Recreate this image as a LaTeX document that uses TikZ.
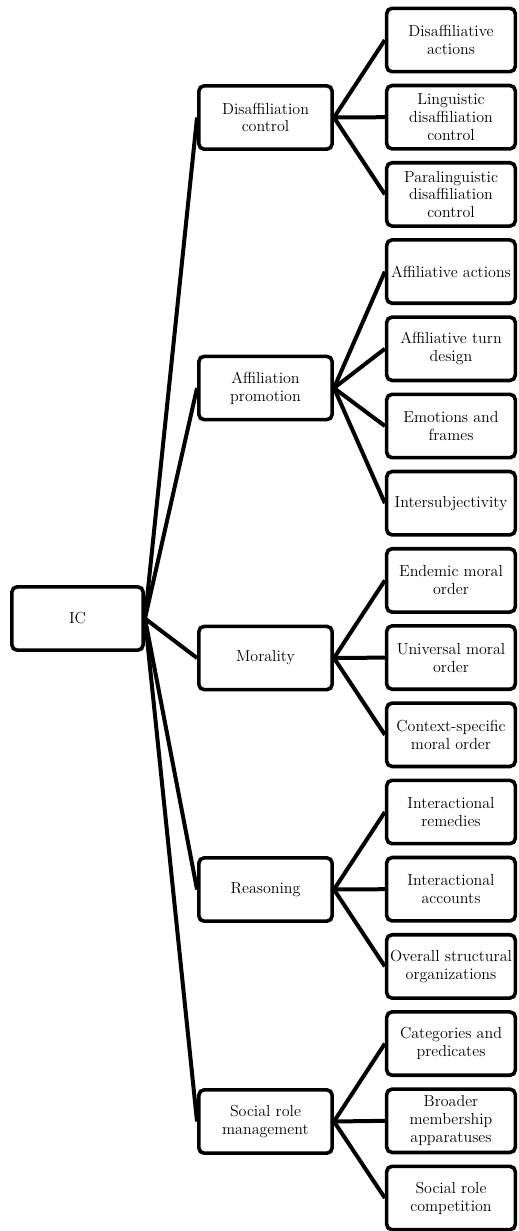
\documentclass[tikz,border=0pt]{standalone}
\usepackage{amssymb,amsmath}
\usepackage{tikz}

\tikzset{
	box/.style={draw, rounded corners=4pt, line width=2.7pt, align=center, inner sep=0.5pt, minimum height=47.5pt},
	rootbox/.style={box, minimum width=98.5pt},
	midbox/.style={box, minimum width=100pt},
	leafbox/.style={box, minimum width=96.5pt},
	link/.style={line width=3pt},
}

\begin{document}
\begin{tikzpicture}[x=0.75pt, y=-0.75pt, font=\fontsize{12}{13.4}\selectfont]
		\useasboundingbox (0,0) rectangle (518,1231);
		% root
		\node[rootbox] (ic) at (77.5,618.5) {IC};
		% second level
		\node[midbox] (disaff) at (265.5,117.5) {Disaffiliation\\control};
		\node[midbox] (affil) at (265.5,388) {Affiliation\\promotion};
		\node[midbox] (moral) at (265.5,658) {Morality};
		\node[midbox] (reason) at (265.5,889.5) {Reasoning};
		\node[midbox] (social) at (265.5,1121.5) {Social role\\management};
		% third level
		\node[leafbox] (l1) at (451,40) {Disaffiliative\\actions};
		\node[leafbox] (l2) at (451,117.2) {Linguistic\\disaffiliation\\control};
		\node[leafbox] (l3) at (451,194.4) {Paralinguistic\\disaffiliation\\control};
		\node[leafbox] (l4) at (451,271.6) {Affiliative actions};
		\node[leafbox] (l5) at (451,348.8) {Affiliative turn\\design};
		\node[leafbox] (l6) at (451,426) {Emotions and\\frames};
		\node[leafbox] (l7) at (451,503.2) {Intersubjectivity};
		\node[leafbox] (l8) at (451,580.4) {Endemic moral\\order};
		\node[leafbox] (l9) at (451,657.6) {Universal moral\\order};
		\node[leafbox] (l10) at (451,734.8) {Context-specific\\moral order};
		\node[leafbox] (l11) at (451,812) {Interactional\\remedies};
		\node[leafbox] (l12) at (451,889.2) {Interactional\\accounts};
		\node[leafbox] (l13) at (451,966.4) {Overall structural\\organizations};
		\node[leafbox] (l14) at (451,1043.6) {Categories and\\predicates};
		\node[leafbox] (l15) at (451,1120.8) {Broader\\membership\\apparatuses};
		\node[leafbox] (l16) at (451,1198) {Social role\\competition};
		% links from the root
		\draw[link] (ic.east) -- (disaff.west);
		\draw[link] (ic.east) -- (affil.west);
		\draw[link] (ic.east) -- (moral.west);
		\draw[link] (ic.east) -- (reason.west);
		\draw[link] (ic.east) -- (social.west);
		% links to the leaves
		\draw[link] (disaff.east) -- (l1.west);
		\draw[link] (disaff.east) -- (l2.west);
		\draw[link] (disaff.east) -- (l3.west);
		\draw[link] (affil.east) -- (l4.west);
		\draw[link] (affil.east) -- (l5.west);
		\draw[link] (affil.east) -- (l6.west);
		\draw[link] (affil.east) -- (l7.west);
		\draw[link] (moral.east) -- (l8.west);
		\draw[link] (moral.east) -- (l9.west);
		\draw[link] (moral.east) -- (l10.west);
		\draw[link] (reason.east) -- (l11.west);
		\draw[link] (reason.east) -- (l12.west);
		\draw[link] (reason.east) -- (l13.west);
		\draw[link] (social.east) -- (l14.west);
		\draw[link] (social.east) -- (l15.west);
		\draw[link] (social.east) -- (l16.west);
	\end{tikzpicture}
\end{document}
